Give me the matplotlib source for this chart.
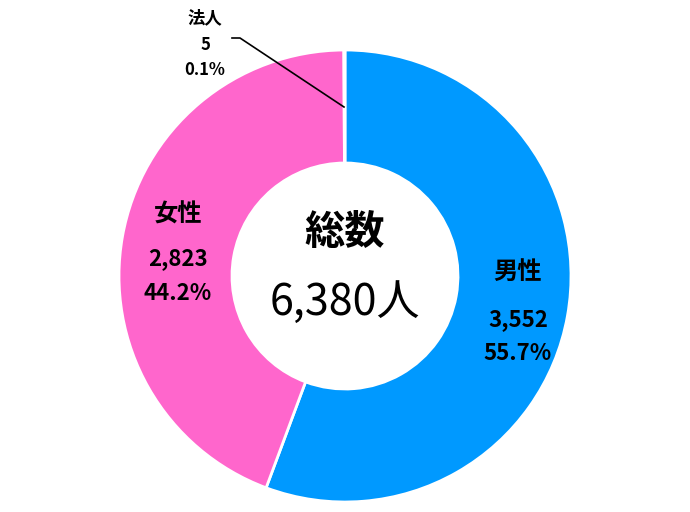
import matplotlib
matplotlib.use("Agg")
import matplotlib.pyplot as plt

plt.rcParams['font.family'] = ['Noto Sans CJK JP', 'DejaVu Sans']

CATEGORIES = ["男性", "女性", "法人"]
VALUES = [3552, 2823, 5]
COLORS = ["#0099FF", "#FF66CC", "#A6A6A6"]
TOTAL_LABEL = "総数"

total = sum(VALUES)

fig = plt.figure(figsize=(6.9, 5.12), dpi=100)
ax = fig.add_axes([0, 0, 1, 1])

cx, cy, r = 345, 512 - 276, 226
ax.pie(VALUES, colors=COLORS, startangle=90, counterclock=False,
       center=(cx, cy), radius=r, frame=True,
       wedgeprops=dict(width=r * 0.5, edgecolor="white", linewidth=2))
ax.set_xlim(0, 690)
ax.set_ylim(0, 512)
ax.set_aspect("equal")
ax.axis("off")

def fmt(v):
    return f"{v:,}", f"{v / total * 100:.1f}%"

# label positions (pixels from top)
pos = {"男性": (518, 272, 320, 354, 17.5, 16),
       "女性": (178, 215, 259, 294, 17.5, 16),
       "法人": (205, 18, 45, 70, 12.5, 12)}
for cat, v in zip(CATEGORIES, VALUES):
    x, y0, y1, y2, fs0, fs1 = pos[cat]
    n, p = fmt(v)
    ax.text(x, 512 - y0, cat, ha="center", va="center", fontsize=fs0, fontweight="bold")
    ax.text(x, 512 - y1, n, ha="center", va="center", fontsize=fs1, fontweight="bold")
    ax.text(x, 512 - y2, p, ha="center", va="center", fontsize=fs1, fontweight="bold")

# leader line for 法人
ax.plot([232, 240, 344], [512 - 38, 512 - 38, 512 - 107], color="black", lw=1.2)

ax.text(cx, 512 - 232, TOTAL_LABEL, ha="center", va="center", fontsize=29, fontweight="bold")
ax.text(cx, 512 - 303, f"{total:,}人", ha="center", va="center", fontsize=31)

fig.savefig("out.png", dpi=100)
